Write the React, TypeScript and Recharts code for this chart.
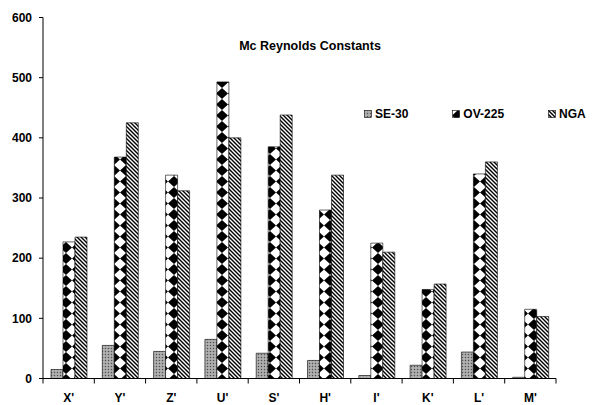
import React from "react";
import { BarChart, Bar, XAxis, YAxis } from "recharts";

const categories = ["X'", "Y'", "Z'", "U'", "S'", "H'", "I'", "K'", "L'", "M'"];
const se30 = [15, 55, 45, 65, 42, 30, 5, 22, 44, 2];
const ov225 = [227, 368, 338, 493, 385, 280, 225, 148, 340, 115];
const nga = [235, 425, 312, 400, 438, 338, 210, 157, 360, 103];
const yTicks = [0, 100, 200, 300, 400, 500, 600];

const data = categories.map((name, i) => ({
  name,
  se30: se30[i],
  ov225: ov225[i],
  nga: nga[i],
}));

const FONT = "'Liberation Sans', Arial, sans-serif";

const legendItems = [
  { key: "se30", label: "SE-30", fill: "url(#patSE)" },
  { key: "ov225", label: "OV-225", fill: "url(#patOV)" },
  { key: "nga", label: "NGA", fill: "url(#patNGA)" },
];

const LegendBox = () => (
  <div
    style={{
      position: "absolute",
      left: 364,
      top: 106,
      display: "flex",
      alignItems: "center",
      fontFamily: FONT,
      fontWeight: 700,
      fontSize: 12,
      lineHeight: "16px",
      color: "#000",
      whiteSpace: "nowrap",
      zIndex: 2,
    }}
  >
    {legendItems.map((it, i) => (
      <div key={it.key} style={{ display: "flex", alignItems: "center", marginRight: i < 2 ? 44 : 0 }}>
        <svg width={8} height={8} style={{ marginRight: 3 }}>
          <rect x={0.5} y={0.5} width={7} height={7} fill={it.fill} stroke="#000" strokeWidth={0.6} />
        </svg>
        <span>{it.label}</span>
      </div>
    ))}
  </div>
);

const CatTick = (props: any) => {
  const { x, y, payload, index, visibleTicksCount } = props;
  const half = payload && payload.offset ? payload.offset : 0;
  const isLast = index === (visibleTicksCount ?? categories.length) - 1;
  return (
    <g>
      {half > 0 && <line x1={x - half} x2={x - half} y1={y} y2={y + 5} stroke="#000" strokeWidth={1} />}
      {half > 0 && isLast && <line x1={x + half} x2={x + half} y1={y} y2={y + 5} stroke="#000" strokeWidth={1} />}
      <text x={x} y={y + 23} textAnchor="middle" fontFamily={FONT} fontWeight={700} fontSize={12} fill="#000">
        {payload.value}
      </text>
    </g>
  );
};

export default function App() {
  return (
    <div style={{ position: "absolute", left: 0, top: 0, width: 598, height: 405, background: "#fff" }}>
      <div
        style={{
          position: "absolute",
          left: 0,
          width: 620,
          top: 39,
          textAlign: "center",
          fontFamily: FONT,
          fontWeight: 700,
          fontSize: 12.5,
          color: "#000",
          zIndex: 2,
        }}
      >
        Mc Reynolds Constants
      </div>
      <LegendBox />
      <BarChart
        width={598}
        height={405}
        data={data}
        margin={{ top: 17.5, right: 42, bottom: 6.5, left: 0 }}
        barGap={0}
        barSize={12}
      >
        <defs>
          <pattern id="patSE" patternUnits="userSpaceOnUse" width={3} height={3}>
            <rect width={3} height={3} fill="#a0a0a0" />
            <rect x={0} y={0} width={1} height={1} fill="#505050" />
            <rect x={1.5} y={1.5} width={1} height={1} fill="#e0e0e0" />
          </pattern>
          <pattern id="patOV" patternUnits="userSpaceOnUse" width={12} height={11}>
            <rect width={12} height={11} fill="#fff" />
            <path d="M6,0 L12,5.5 L6,11 L0,5.5 Z" fill="#000" />
          </pattern>
          <pattern id="patNGA" patternUnits="userSpaceOnUse" width={4} height={4}>
            <rect width={4} height={4} fill="#fff" />
            <path d="M-1,-1 L5,5 M-1,3 L1,5 M3,-1 L5,1" stroke="#000" strokeWidth={1.4} />
          </pattern>
        </defs>
        <XAxis
          dataKey="name"
          tickLine={false}
          tickSize={0}
          tickMargin={0}
          axisLine={{ stroke: "#000", strokeWidth: 1 }}
          tick={<CatTick />}
          height={20}
          interval={0}
        />
        <YAxis
          domain={[0, 600]}
          ticks={yTicks}
          width={43}
          axisLine={{ stroke: "#000", strokeWidth: 1 }}
          tickLine={{ stroke: "#000", strokeWidth: 1 }}
          tickSize={4}
          tickMargin={7}
          interval={0}
          tick={{ fontFamily: FONT, fontWeight: 700, fontSize: 12, fill: "#000" }}
        />
        <Bar dataKey="se30" name="SE-30" fill="url(#patSE)" stroke="#000" strokeWidth={0.6} isAnimationActive={false} />
        <Bar dataKey="ov225" name="OV-225" fill="url(#patOV)" stroke="#000" strokeWidth={0.6} isAnimationActive={false} />
        <Bar dataKey="nga" name="NGA" fill="url(#patNGA)" stroke="#000" strokeWidth={0.6} isAnimationActive={false} />
      </BarChart>
    </div>
  );
}
